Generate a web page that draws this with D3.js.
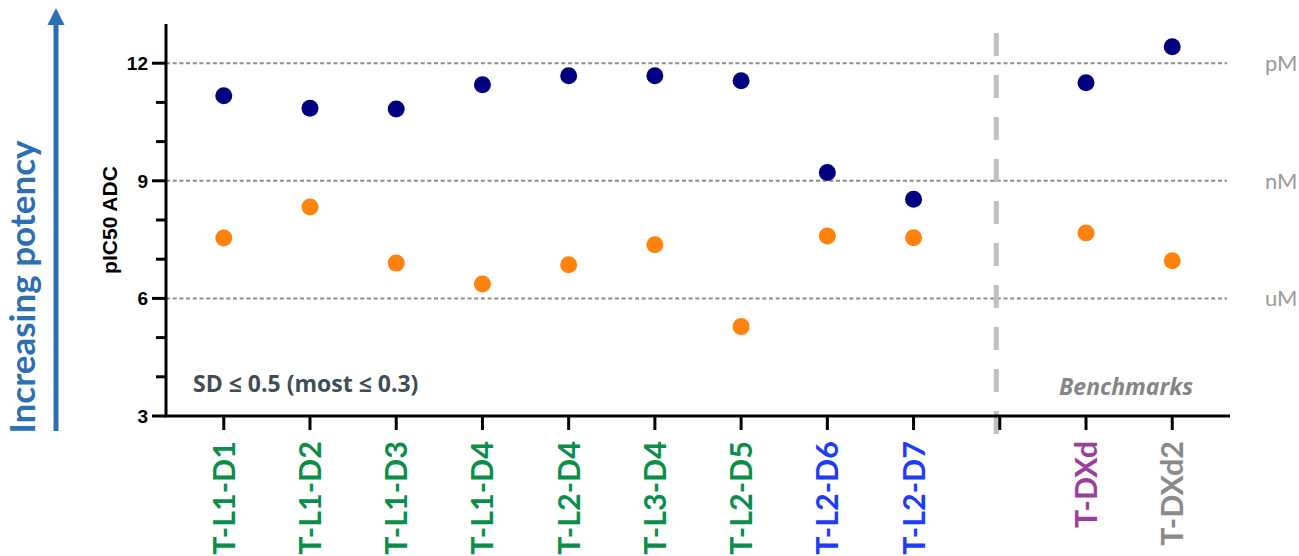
<!DOCTYPE html>
<html>
<head>
<meta charset="utf-8">
<script src="https://cdn.jsdelivr.net/npm/d3@7"></script>
<style>
  html, body { margin: 0; padding: 0; background: #fff; }
  svg { display: block; }
</style>
</head>
<body>
<svg id="chart" width="1299" height="556"></svg>
<script>
// Compounds in plot order; the empty slot separates the benchmarks
const categories = ["T-L1-D1", "T-L1-D2", "T-L1-D3", "T-L1-D4", "T-L2-D4", "T-L3-D4",
                    "T-L2-D5", "T-L2-D6", "T-L2-D7", "", "T-DXd", "T-DXd2"];
const labelColors = ["#0a8f4b", "#0a8f4b", "#0a8f4b", "#0a8f4b", "#0a8f4b", "#0a8f4b",
                     "#0a8f4b", "#1c3cf8", "#1c3cf8", "none", "#9a3f9e", "#8a8a8a"];
// pIC50 values, two cell lines
const seriesHigh = [11.17, 10.85, 10.83, 11.45, 11.68, 11.68, 11.55, 9.21, 8.53, null, 11.50, 12.42];
const seriesLow  = [7.54, 8.33, 6.90, 6.37, 6.86, 7.37, 5.28, 7.59, 7.55, null, 7.67, 6.96];
const yTicks = [3, 6, 9, 12];
const yMinor = [4, 5, 7, 8, 10, 11];
const unitLines = [{v: 12, t: "pM"}, {v: 9, t: "nM"}, {v: 6, t: "uM"}];

const svg = d3.select("#chart");
const W = 1299, H = 556;
svg.append("rect").attr("width", W).attr("height", H).attr("fill", "#fff");

const x = d3.scalePoint().domain(d3.range(categories.length)).range([166, 1230]).padding(0.67);
const y = d3.scaleLinear().domain([3, 13]).range([416, 24]);

// dotted reference lines at pM / nM / uM thresholds
svg.append("g").selectAll("line").data(unitLines).join("line")
  .attr("x1", 166).attr("x2", 1227)
  .attr("y1", d => y(d.v)).attr("y2", d => y(d.v))
  .attr("stroke", "#8c8c8c").attr("stroke-width", 2).attr("stroke-dasharray", "4,2.7");
svg.append("g").selectAll("text").data(unitLines).join("text")
  .attr("x", 1265).attr("y", d => y(d.v)).attr("dy", "0.35em")
  .attr("font-family", "Lato, sans-serif").attr("font-size", 22)
  .attr("fill", "#9a9a9a").text(d => d.t);

// benchmark separator
const sepX = x(9) - 3.5;
svg.append("line")
  .attr("x1", sepX).attr("x2", sepX).attr("y1", 33).attr("y2", 436)
  .attr("stroke", "#c0c0c0").attr("stroke-width", 5).attr("stroke-dasharray", "23,19");

// y axis
const yAxis = svg.append("g").attr("transform", "translate(166,0)");
yAxis.append("line").attr("x1", 0).attr("x2", 0).attr("y1", y(13)).attr("y2", y(3))
  .attr("stroke", "#000").attr("stroke-width", 3);
yAxis.selectAll(".maj").data(yTicks).join("line").attr("class", "maj")
  .attr("x1", -14).attr("x2", 0).attr("y1", d => y(d)).attr("y2", d => y(d))
  .attr("stroke", "#000").attr("stroke-width", 3);
yAxis.selectAll(".min").data(yMinor).join("line").attr("class", "min")
  .attr("x1", -10).attr("x2", 0).attr("y1", d => y(d)).attr("y2", d => y(d))
  .attr("stroke", "#000").attr("stroke-width", 3);
yAxis.selectAll("text").data(yTicks).join("text")
  .attr("x", -18).attr("y", d => y(d)).attr("dy", "0.36em")
  .attr("text-anchor", "end")
  .attr("font-family", "'Liberation Sans', Arial, sans-serif").attr("font-weight", "bold")
  .attr("font-size", 19).attr("fill", "#000").text(d => d);

svg.append("text")
  .attr("transform", "translate(117,220) rotate(-90)")
  .attr("text-anchor", "middle")
  .attr("font-family", "'Liberation Sans', Arial, sans-serif").attr("font-weight", "bold")
  .attr("font-size", 21).attr("fill", "#000").text("pIC50 ADC");

// x axis
const xAxis = svg.append("g");
xAxis.append("line").attr("x1", 164.5).attr("x2", 1230).attr("y1", 416).attr("y2", 416)
  .attr("stroke", "#000").attr("stroke-width", 3);
xAxis.selectAll("line.t").data(d3.range(categories.length)).join("line").attr("class", "t")
  .attr("x1", d => x(d)).attr("x2", d => x(d)).attr("y1", 416).attr("y2", 430)
  .attr("stroke", "#000").attr("stroke-width", 3);
xAxis.selectAll("text").data(d3.range(categories.length).filter(i => categories[i])).join("text")
  .attr("transform", d => `translate(${x(d)},441) rotate(-90)`)
  .attr("text-anchor", "end").attr("dy", "0.36em")
  .attr("font-family", "Lato, sans-serif").attr("font-weight", "bold")
  .attr("font-size", 30.5).attr("fill", d => labelColors[d]).text(d => categories[d]);

// data points
const pts = svg.append("g");
pts.selectAll("circle.low").data(d3.range(categories.length).filter(i => seriesLow[i] != null))
  .join("circle").attr("class", "low")
  .attr("cx", d => x(d)).attr("cy", d => y(seriesLow[d])).attr("r", 8.5)
  .attr("fill", "#ff820d");
pts.selectAll("circle.high").data(d3.range(categories.length).filter(i => seriesHigh[i] != null))
  .join("circle").attr("class", "high")
  .attr("cx", d => x(d)).attr("cy", d => y(seriesHigh[d])).attr("r", 8.5)
  .attr("fill", "#000080");

// annotations
svg.append("text").attr("x", 193).attr("y", 392)
  .attr("font-family", "'Open Sans', sans-serif").attr("font-weight", "bold")
  .attr("font-size", 23).attr("fill", "#3f4e56").text("SD \u2264 0.5 (most \u2264 0.3)");
svg.append("text").attr("x", (x(10) + x(11)) / 2 - 3).attr("y", 395)
  .attr("text-anchor", "middle")
  .attr("font-family", "'Open Sans', sans-serif").attr("font-weight", "bold").attr("font-style", "italic")
  .attr("font-size", 23).attr("fill", "#858585").text("Benchmarks");

// potency arrow
const arrowColor = "#2c6fb3";
svg.append("line").attr("x1", 56).attr("x2", 56).attr("y1", 431).attr("y2", 22)
  .attr("stroke", arrowColor).attr("stroke-width", 5);
svg.append("path").attr("d", "M56,8 L64.5,25 L47.5,25 Z").attr("fill", arrowColor);
svg.append("text")
  .attr("transform", "translate(35,287) rotate(-90)")
  .attr("text-anchor", "middle")
  .attr("font-family", "Lato, sans-serif").attr("font-weight", "bold")
  .attr("font-size", 35).attr("fill", arrowColor).text("Increasing potency");
</script>
</body>
</html>
